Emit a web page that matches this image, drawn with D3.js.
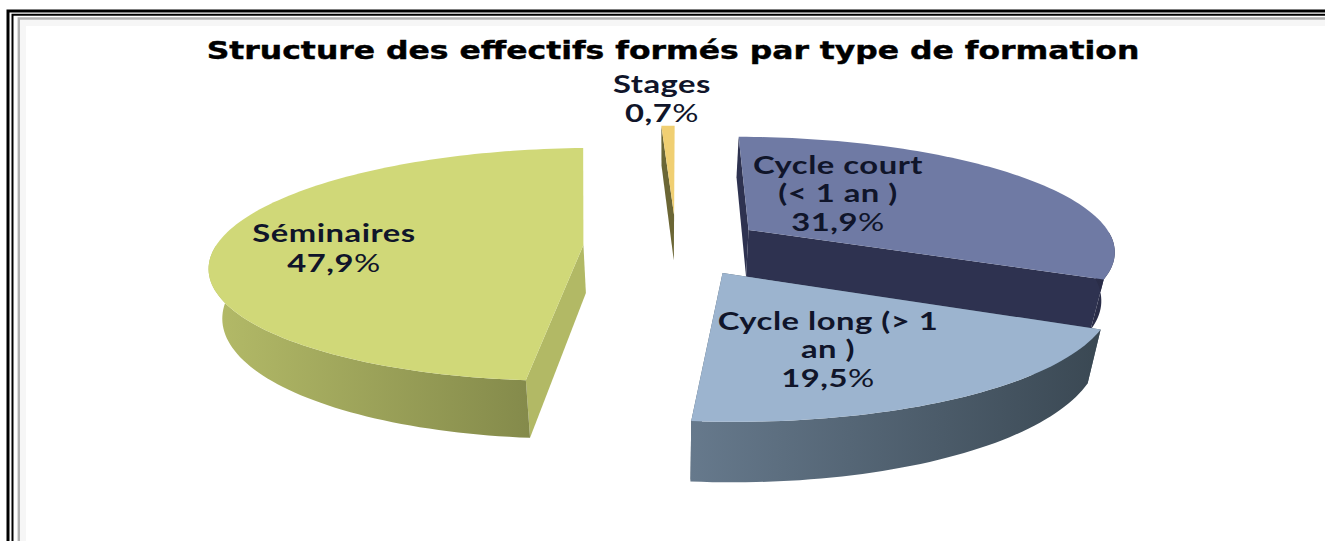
<!DOCTYPE html>
<html><head><meta charset="utf-8">
<script src="https://cdn.jsdelivr.net/npm/d3@7/dist/d3.min.js"></script>
<style>html,body{margin:0;padding:0;background:#fff;overflow:hidden}svg{display:block}</style>
</head><body><svg id="c" width="1325" height="541"></svg>
<script>
const title = "Structure des effectifs formés par type de formation";
const categories = ["Stages","Cycle court (< 1 an)","Cycle long (> 1 an)","Séminaires"];
const values = [0.7,31.9,19.5,47.9];
const labelLines = [["Stages"],["Cycle court","(< 1 an )"],["Cycle long (> 1","an )"],["Séminaires"]];
const valueLabels = ["0,7","31,9","19,5","47,9"];
const topColors = ["#f0cf72","#6f7aa4","#9cb4cf","#d0d878"];
const rimColors = [["#8a7a3c","#6b6b3a"],["#2f3350","#2a2d48"],["#66798c","#3a4853"],["#b4bb68","#7c8246"]];
const sideColors = ["#6b6635","#2e3250","#4b5c6a","#b2b965"];
const explode = [[0.023,-0.278],[0.23,-0.136],[0.148,0.238],[-0.225,0]];

const svg = d3.select("#c");
const W=1325, H=541;
// frame (open on the right and at the bottom)
const frame = svg.append("g").attr("fill","none");
frame.append("path").attr("d",`M23,${H}V23H${W}`).attr("stroke","#f6f6f6").attr("stroke-width",6);
frame.append("path").attr("d",`M8,${H}V11H${W}`).attr("stroke","#000").attr("stroke-width",3);
frame.append("path").attr("d",`M12.5,${H}V14.8H${W}`).attr("stroke","#000").attr("stroke-width",2);
frame.append("path").attr("d",`M18.8,${H}V18.5H${W}`).attr("stroke","#b0b0b0").attr("stroke-width",2.4);

// perspective projection of the pie plane
const cx=666, cy=245, rx=367, ry=113.3, persp=0.167, depth=48, baseShrink=0.97;
const rotation=-2.2*Math.PI/180;
const pie=d3.pie().sort(null).value(d=>d).startAngle(rotation).endAngle(rotation+2*Math.PI);
const arcs=pie(values);
const P=(u,v,down)=>{
  const s=1/(1-persp*v);
  return down ? [cx+rx*u*s*baseShrink, cy+ry*v*s+depth*s] : [cx+rx*u*s, cy+ry*v*s];
};
const line=d3.line();
const defs=svg.append("defs");

function angles(i){
  const a=arcs[i];
  const n=Math.max(4,Math.ceil((a.endAngle-a.startAngle)*40));
  return d3.range(n+1).map(k=>a.startAngle+(a.endAngle-a.startAngle)*k/n);
}
function ptsAt(i,t,down){
  const [u0,v0]=explode[i];
  return t.map(x=>P(u0+Math.sin(x),v0-Math.cos(x),down));
}
const order=[0,1,3,2];
const pg=svg.append("g");
order.forEach(i=>{
  const [u0,v0]=explode[i];
  const g=pg.append("g").attr("class","slice").datum(categories[i]);
  const t=angles(i);
  const top=ptsAt(i,t,false), bot=ptsAt(i,t.slice().reverse(),true);
  const ex=d3.extent(top.map(p=>p[0]));
  const gid="rim"+i;
  const lg=defs.append("linearGradient").attr("id",gid).attr("gradientUnits","userSpaceOnUse")
    .attr("x1",ex[0]).attr("x2",ex[1]).attr("y1",0).attr("y2",0);
  lg.append("stop").attr("offset",0).attr("stop-color",rimColors[i][0]);
  lg.append("stop").attr("offset",1).attr("stop-color",rimColors[i][1]);
  const A=P(u0,v0,false),B=P(u0,v0,true);
  const walls=[[top[0],bot[bot.length-1]]];
  if(categories[i]!=="Séminaires") walls.push([top[top.length-1],bot[0]]);
  walls.forEach(([a,b])=>{
    g.append("path").attr("d",line([A,a,b,B])+"Z").attr("fill",sideColors[i]);
  });
  // only the part of the rim facing the viewer is drawn
  const front=t.filter(x=>Math.cos(x)<=0);
  if(front.length>1){
    g.append("path").attr("d",line(ptsAt(i,front,false).concat(ptsAt(i,front.slice().reverse(),true)))+"Z")
      .attr("fill",`url(#${gid})`);
  }
  g.append("path").attr("d",line([A].concat(top))+"Z").attr("fill",topColors[i]);
});

// text: the source picture is stretched horizontally
const stretch=1.31;
svg.append("text").attr("transform",`translate(673,59) scale(${stretch},1)`).attr("text-anchor","middle")
  .attr("font-family","DejaVu Sans").attr("font-weight",700).attr("font-size",24)
  .attr("stroke","#000").attr("stroke-width",0.4)
  .attr("fill","#000").text(title);
const labelPos=[[662,93],[838,174],[828,330],[334,242]];
const lineGaps=[29,28.5,28.5,30];
const lg=svg.append("g").attr("font-family","Lato").attr("font-size",25).attr("font-weight",700)
  .attr("text-anchor","middle").attr("letter-spacing",0.4).attr("fill","#10152a");
labelLines.forEach((ls,i)=>{
  const t=lg.append("text").attr("transform",`translate(${labelPos[i][0]},${labelPos[i][1]}) scale(${stretch},1)`);
  ls.forEach((s,k)=>t.append("tspan").attr("x",0).attr("dy",k?lineGaps[i]:0).text(s));
  t.append("tspan").attr("x",0).attr("dy",lineGaps[i]).text(valueLabels[i]);
  t.append("tspan").attr("font-weight",400).text("%");
});
</script></body></html>
